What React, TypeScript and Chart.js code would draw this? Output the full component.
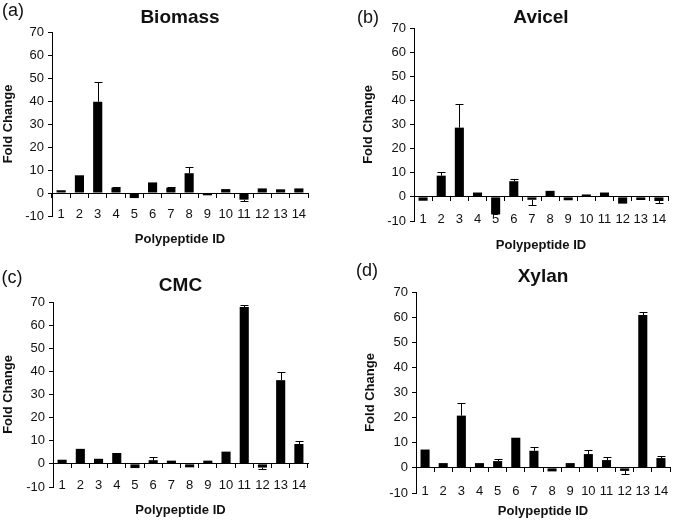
import React, { useEffect, useRef } from 'react';
import { Chart, registerables } from 'chart.js';

Chart.register(...registerables);

// ---------- data ----------
const categories = ['1', '2', '3', '4', '5', '6', '7', '8', '9', '10', '11', '12', '13', '14'];
const yMin = -10;
const yMax = 70;
const yStep = 10;

const biomassValues = [1.2, 7.7, 39.7, 2.3, -2.2, 4.6, 2.3, 8.6, -1.0, 1.7, -2.9, 2.0, 1.6, 2.0];
const biomassErrors = [0, 0, 8.5, 0.3, 0, 0, 0.3, 2.6, 0, 0, 0.7, 0, 0, 0];

const avicelValues = [-1.6, 8.8, 28.7, 1.8, -7.3, 6.5, -1.2, 2.5, -1.4, 1.0, 1.8, -2.8, -1.3, -1.7];
const avicelErrors = [0, 1.4, 9.6, 0, 0, 1.1, 2.3, 0, 0, 0, 0, 0, 0, 0.7];

const cmcValues = [1.8, 6.5, 2.2, 4.7, -1.8, 1.6, 1.4, -1.5, 1.4, 5.3, 67.8, -1.6, 36.2, 8.6];
const cmcErrors = [0, 0, 0, 0, 0, 1.3, 0, 0, 0, 0, 0.9, 0.8, 3.4, 1.2];

const xylanValues = [7.3, 1.9, 20.8, 1.9, 2.7, 12.0, 6.8, -1.4, 1.9, 5.5, 3.1, -1.2, 60.8, 3.9];
const xylanErrors = [0, 0, 5.2, 0, 1.0, 0, 1.5, 0, 0, 1.7, 1.3, 1.1, 1.3, 0.9];

// ---------- styles / layout ----------
const FONT = "'Liberation Sans', Arial, Helvetica, sans-serif";
const TEXT = '#111';

type Layout = {
  left: number; top: number; width: number; height: number;
  plotLeft: number; plotRight: number; plotTop: number; plotBottom: number;
  titleY: number; letterX: number; letterY: number; yTitleX: number; xTitleY: number;
};

const layoutA: Layout = { left: 0, top: 0, width: 337, height: 258, plotLeft: 52, plotRight: 308, plotTop: 32, plotBottom: 216, titleY: 18, letterX: 13, letterY: 11, yTitleX: 8, xTitleY: 239 };
const layoutB: Layout = { left: 337, top: 0, width: 338, height: 258, plotLeft: 77, plotRight: 331, plotTop: 28, plotBottom: 221, titleY: 18, letterX: 31, letterY: 18, yTitleX: 31, xTitleY: 245 };
const layoutC: Layout = { left: 0, top: 258, width: 337, height: 262, plotLeft: 53, plotRight: 308, plotTop: 44, plotBottom: 229, titleY: 28, letterX: 12, letterY: 20, yTitleX: 8, xTitleY: 252 };
const layoutD: Layout = { left: 337, top: 258, width: 338, height: 262, plotLeft: 79, plotRight: 333, plotTop: 34, plotBottom: 235, titleY: 19, letterX: 30, letterY: 13, yTitleX: 33, xTitleY: 253 };

const errorBarPlugin = {
  id: 'errorBars',
  afterDatasetsDraw(chart: any) {
    const ds: any = chart.data.datasets[0];
    const errs: number[] = ds.errors || [];
    const meta = chart.getDatasetMeta(0);
    const yScale = chart.scales.y;
    const ctx = chart.ctx;
    ctx.save();
    ctx.strokeStyle = '#000';
    ctx.lineWidth = 1;
    meta.data.forEach((bar: any, i: number) => {
      const v = ds.data[i] as number;
      const e = errs[i];
      if (!e) return;
      const end = v >= 0 ? v + e : v - e;
      const x = Math.round(bar.x) + 0.5;
      const y0 = yScale.getPixelForValue(v);
      const y1 = Math.round(yScale.getPixelForValue(end)) + 0.5;
      ctx.beginPath();
      ctx.moveTo(x, y0);
      ctx.lineTo(x, y1);
      ctx.moveTo(x - 4, y1);
      ctx.lineTo(x + 4, y1);
      ctx.stroke();
    });
    ctx.restore();
  },
};

function BarPanel(props: { title: string; letter: string; values: number[]; errors: number[]; layout: Layout }) {
  const ref = useRef<HTMLCanvasElement>(null);
  const { title, letter, values, errors, layout: L } = props;

  useEffect(() => {
    if (!ref.current) return;
    const titleSize = 19;
    const titlePadTop = L.titleY - titleSize / 2;
    const titlePadBottom = L.plotTop - titleSize - titlePadTop;
    const axisTitleLH = 13 * 1.2;
    const tickLH = 13 * 1.2;

    const letterPlugin = {
      id: 'panelLetter',
      afterDraw(chart: any) {
        const ctx = chart.ctx;
        ctx.save();
        ctx.font = `18px ${FONT}`;
        ctx.fillStyle = TEXT;
        ctx.textAlign = 'center';
        ctx.textBaseline = 'middle';
        ctx.fillText(letter, L.letterX, L.letterY);
        ctx.restore();
      },
    };

    const chart = new Chart(ref.current, {
      type: 'bar',
      data: {
        labels: categories,
        datasets: [
          {
            data: values,
            errors,
            backgroundColor: '#000',
            borderWidth: 0,
            barPercentage: 0.5,
            categoryPercentage: 1.0,
          } as any,
        ],
      },
      options: {
        animation: false,
        responsive: false,
        events: [],
        layout: { padding: { left: 0, top: 0, right: L.width - L.plotRight, bottom: L.height - L.plotBottom } },
        plugins: {
          legend: { display: false },
          tooltip: { enabled: false },
          title: {
            display: true,
            text: title,
            fullSize: false,
            color: TEXT,
            font: { family: FONT, size: titleSize, weight: 'bold', lineHeight: 1 },
            padding: { top: titlePadTop, bottom: titlePadBottom },
          },
        },
        scales: {
          x: {
            type: 'category',
            position: { y: yMin },
            offset: true,
            grid: { display: false, drawTicks: false },
            border: { display: false },
            ticks: {
              autoSkip: false,
              maxRotation: 0,
              minRotation: 0,
              padding: -tickLH / 2 - 2,
              color: TEXT,
              font: { family: FONT, size: 13 },
            },
            title: {
              display: true,
              text: 'Polypeptide ID',
              color: TEXT,
              font: { family: FONT, size: 13, weight: 'bold' },
              padding: { top: 0, bottom: L.height - L.xTitleY - axisTitleLH / 2 },
            },
            afterFit: (s: any) => {
              s.height = L.height - L.plotBottom;
            },
          },
          x0: {
            type: 'category',
            position: { y: 0 },
            offset: true,
            grid: {
              display: true,
              offset: true,
              drawOnChartArea: false,
              drawTicks: true,
              tickLength: 4,
              color: '#000',
              lineWidth: 1,
            },
            border: { display: true, color: '#000', width: 1 },
            ticks: { display: false },
          },
          y: {
            type: 'linear',
            position: 'left',
            min: yMin,
            max: yMax,
            ticks: { stepSize: yStep, padding: 4, color: TEXT, font: { family: FONT, size: 13 } },
            grid: { drawOnChartArea: false, drawTicks: true, tickLength: 4, color: '#000', lineWidth: 1 },
            border: { display: true, color: '#000', width: 1 },
            title: {
              display: true,
              text: 'Fold Change',
              color: TEXT,
              font: { family: FONT, size: 13, weight: 'bold' },
              padding: { top: L.yTitleX - axisTitleLH / 2, bottom: 0 },
            },
            afterFit: (s: any) => {
              s.width = L.plotLeft;
            },
          },
        } as any,
      },
      plugins: [errorBarPlugin, letterPlugin],
    });
    return () => chart.destroy();
  }, []);

  return (
    <canvas
      ref={ref}
      width={L.width}
      height={L.height}
      style={{ position: 'absolute', left: L.left, top: L.top, width: L.width, height: L.height, display: 'block' }}
    />
  );
}

export default function App() {
  return (
    <div style={{ position: 'absolute', left: 0, top: 0, width: 675, height: 520, background: '#fff', overflow: 'hidden' }}>
      <BarPanel title="Biomass" letter="(a)" values={biomassValues} errors={biomassErrors} layout={layoutA} />
      <BarPanel title="Avicel" letter="(b)" values={avicelValues} errors={avicelErrors} layout={layoutB} />
      <BarPanel title="CMC" letter="(c)" values={cmcValues} errors={cmcErrors} layout={layoutC} />
      <BarPanel title="Xylan" letter="(d)" values={xylanValues} errors={xylanErrors} layout={layoutD} />
    </div>
  );
}
